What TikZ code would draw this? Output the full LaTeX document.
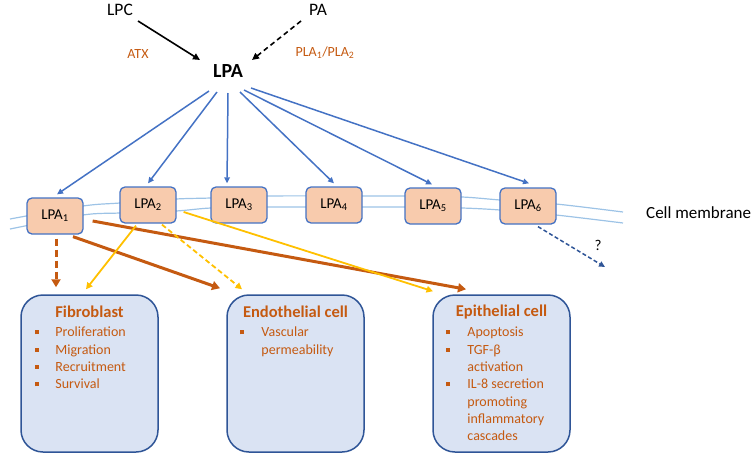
\documentclass[tikz,border=0pt]{standalone}
\usepackage{fontspec}
\setmainfont{Carlito}
\usetikzlibrary{arrows.meta,calc}
\definecolor{orng}{HTML}{C55A11}
\definecolor{lblue}{HTML}{4472C4}
\definecolor{dblue}{HTML}{2F5597}
\definecolor{memc}{HTML}{9DC3E6}
\definecolor{peach}{HTML}{F8CBAD}
\definecolor{cellfill}{HTML}{DAE3F3}
\definecolor{yell}{HTML}{FFC000}
\newcommand{\fsz}[2]{\fontsize{#1}{#2}\selectfont}
\newcommand{\bsq}{\textcolor{orng}{\rule[2.6pt]{4pt}{4pt}}}
\tikzset{
  rec/.style={draw=lblue, line width=1.3pt, fill=peach, rounded corners=5pt,
    minimum width=56pt, minimum height=36pt, inner sep=0pt, font=\fsz{15}{18}},
  cellbox/.style={draw=dblue, line width=1.5pt, fill=cellfill, rounded corners=22pt,
    minimum width=137pt, minimum height=157pt, inner sep=0pt},
  ctitle/.style={text=orng, font=\fsz{16.5}{20}\bfseries, inner sep=0pt},
  clist/.style={text=orng, font=\fsz{14}{17.3}, inner sep=0pt, anchor=north west},
  lbl/.style={text=orng, font=\fsz{14}{17}, inner sep=0pt},
  blk/.style={font=\fsz{17.5}{20}, inner sep=0pt},
  mem/.style={draw=memc, line width=1.2pt},
  bluearr/.style={draw=lblue, line width=1.5pt, -{Triangle[length=6pt,width=5.5pt]}},
  orarr/.style={draw=orng, line width=3pt, -{Triangle[length=8pt,width=9pt]}},
  yearr/.style={draw=yell, line width=1.8pt, -{Triangle[length=6.5pt,width=6.5pt]}},
}
\begin{document}
\begin{tikzpicture}[x=1pt,y=-1pt]
\useasboundingbox (0,0) rectangle (753,453);

% top
\node[blk] (lpc) at (120,10) {LPC};
\node[blk] (pa) at (318,10) {PA};
\node[font=\fsz{20}{24}\bfseries, inner sep=0pt] (lpa) at (228,71) {LPA};
\node[lbl] (atx) at (138,54) {ATX};
\node[lbl] (pla) at (325,53) {PLA\textsubscript{1}/PLA\textsubscript{2}};

\draw[line width=1.6pt, -{Triangle[length=7pt,width=6.5pt]}] ($(lpc)+(18,11)$) -- ($(lpa)+(-28,-11)$);
\draw[line width=1.6pt, dash pattern=on 5pt off 3.5pt, -{Triangle[length=7pt,width=6.5pt]}] ($(pa)+(-17,11)$) -- ($(lpa)+(24,-11)$);

% membrane
\draw[mem] plot[smooth] coordinates {(10,219) (83,206) (120,203) (176,199) (211,198) (268,196) (363,196) (405,196) (462,197) (500,200) (556,204) (623,212)};
\draw[mem] plot[smooth] coordinates {(10,229) (83,215) (120,213) (176,211) (211,208) (268,207) (363,207) (405,207) (462,208) (500,210) (556,215) (623,223)};
\node[anchor=west, font=\fsz{17}{20}, inner sep=0pt] (cm) at (646,213) {Cell membrane};

% receptors
\node[rec] (r1) at (55,216) {LPA\textsubscript{1}};
\node[rec] (r2) at (148,205) {LPA\textsubscript{2}};
\node[rec] (r3) at (239,205) {LPA\textsubscript{3}};
\node[rec] (r4) at (334,205) {LPA\textsubscript{4}};
\node[rec] (r5) at (433,206) {LPA\textsubscript{5}};
\node[rec] (r6) at (528,206) {LPA\textsubscript{6}};

% LPA -> receptors
\draw[bluearr] ($(lpa)+(-19,20)$) -- ($(r1.north)+(2,-3)$);
\draw[bluearr] ($(lpa)+(-11,21)$) -- ($(r2.north)+(0,-3)$);
\draw[bluearr] ($(lpa)+(0,22)$) -- ($(r3.north)+(-12,-3)$);
\draw[bluearr] ($(lpa)+(12,21)$) -- ($(r4.north)+(0,-3)$);
\draw[bluearr] ($(lpa)+(16,19)$) -- ($(r5.north)+(-1,-3)$);
\draw[bluearr] ($(lpa)+(23,17)$) -- ($(r6.north)+(1,-4)$);

% unknown
\coordinate (q) at (605,267);
\draw[draw=dblue, line width=1.5pt, dash pattern=on 4pt off 2.5pt, -{Triangle[length=6pt,width=5.5pt]}] ($(r6.south)+(10,2)$) -- (q);
\node[font=\fsz{15}{18}, inner sep=0pt] (qm) at (598,245) {?};

% cells
\node[cellbox] (fib) at (89.5,373.5) {};
\node[cellbox] (endo) at (295.5,373.5) {};
\node[cellbox] (epi) at (501.5,373.5) {};

\node[ctitle] (fibt) at ($(fib.north)+(0,18)$) {Fibroblast};
\node[ctitle] (endot) at ($(endo.north)+(0,18)$) {Endothelial cell};
\node[ctitle] (epit) at ($(epi.north)+(0,18)$) {Epithelial cell};

\node[clist] (fibl) at ($(fib.north west)+(15,30.4)$) {%
\begin{tabular}{@{}p{20pt}@{}l@{}}
\bsq & Proliferation\\
\bsq & Migration\\
\bsq & Recruitment\\
\bsq & Survival
\end{tabular}};
\node[clist] (endol) at ($(endo.north west)+(14,30.4)$) {%
\begin{tabular}{@{}p{21pt}@{}l@{}}
\bsq & Vascular\\
 & permeability
\end{tabular}};
\node[clist] (epil) at ($(epi.north west)+(14,30.4)$) {%
\begin{tabular}{@{}p{21pt}@{}l@{}}
\bsq & Apoptosis\\
\bsq & TGF-β\\
 & activation\\
\bsq & IL-8 secretion\\
 & promoting\\
 & inflammatory\\
 & cascades
\end{tabular}};

% orange arrows from LPA1
\draw[orarr, dash pattern=on 7pt off 4pt] ($(r1.south)+(1,4)$) -- ($(fib.north)+(-33.5,-7)$);
\draw[orarr] ($(r1.south)+(18,2)$) -- ($(endo.north)+(-75.5,-6)$);
\draw[orarr] ($(r1.east)+(9,5)$) -- ($(epi.north)+(-35.5,-5)$);

% yellow arrows from LPA2
\draw[yearr] ($(r2.south)+(-12,2)$) -- ($(fib.north)+(-3.5,-5)$);
\draw[yearr, dash pattern=on 5pt off 3pt] ($(r2.south)+(14,1)$) -- ($(endo.north)+(-53.5,-5)$);
\draw[yearr] ($(r2.east)+(7,7)$) -- ($(epi.north)+(-68.5,-3)$);
\end{tikzpicture}
\end{document}
